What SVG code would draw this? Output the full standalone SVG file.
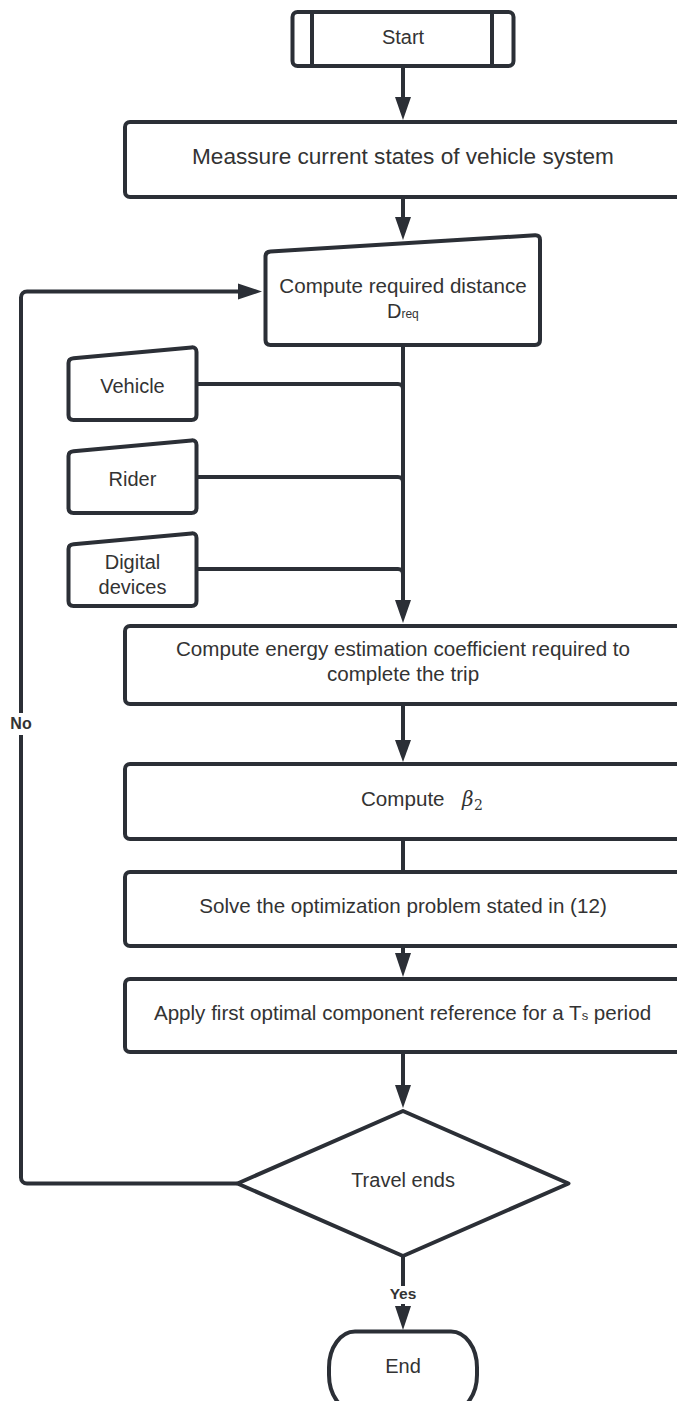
<svg xmlns="http://www.w3.org/2000/svg" width="677" height="1401" viewBox="0 0 677 1401">
<style>
.shape{fill:#ffffff;stroke:#2b2f36;stroke-width:4;stroke-linejoin:round}
.line{fill:none;stroke:#2b2f36;stroke-width:4;stroke-linejoin:round}
.head{fill:#2b2f36;stroke:none}
.t{font-family:"Liberation Sans",Arial,sans-serif;fill:#333333;font-size:20.6px;text-anchor:middle}
.s{font-size:20px}
.lbl{font-family:"Liberation Sans",Arial,sans-serif;fill:#333333;font-size:15.5px;font-weight:bold;text-anchor:middle}
.m{font-family:"DejaVu Serif","Liberation Serif",serif;fill:#333333}
</style>
<rect width="677" height="1401" fill="#ffffff"/>
<g id="connectors">
  <line class="line" x1="403" y1="66" x2="403" y2="100"/>
  <polygon class="head" points="395,97 411,97 403,120"/>
  <line class="line" x1="403" y1="197" x2="403" y2="220"/>
  <polygon class="head" points="395,217 411,217 403,240"/>
  <line class="line" x1="403" y1="345" x2="403" y2="603"/>
  <polygon class="head" points="395,600 411,600 403,623"/>
  <path class="line" d="M196.5 384 H398 A5 5 0 0 1 403 389"/>
  <path class="line" d="M196.5 477 H398 A5 5 0 0 1 403 482"/>
  <path class="line" d="M196.5 569 H398 A5 5 0 0 1 403 574"/>
  <line class="line" x1="403" y1="704" x2="403" y2="743"/>
  <polygon class="head" points="395,740 411,740 403,762"/>
  <line class="line" x1="403" y1="839" x2="403" y2="872"/>
  <line class="line" x1="403" y1="946" x2="403" y2="956"/>
  <polygon class="head" points="395,953 411,953 403,977"/>
  <line class="line" x1="403" y1="1052" x2="403" y2="1088"/>
  <polygon class="head" points="395,1085 411,1085 403,1108"/>
  <path class="line" d="M237.5 1183.5 H27 A6 6 0 0 1 21 1177.5 V297.5 A6 6 0 0 1 27 291.5 H241"/>
  <polygon class="head" points="238,283.5 238,299.5 262,291.5"/>
  <rect x="9" y="713" width="24" height="22" fill="#ffffff"/>
  <text class="lbl" x="21" y="728.5" style="font-size:16px">No</text>
  <line class="line" x1="403" y1="1256" x2="403" y2="1286"/>
  <line class="line" x1="403" y1="1304" x2="403" y2="1309"/>
  <polygon class="head" points="395,1306 411,1306 403,1330"/>
  <text class="lbl" x="403" y="1298.5">Yes</text>
</g>
<g id="start">
  <rect class="shape" x="292.5" y="12" width="221" height="54" rx="5"/>
  <line class="line" x1="312" y1="12" x2="312" y2="66"/>
  <line class="line" x1="492" y1="12" x2="492" y2="66"/>
  <text class="t s" x="403" y="43.5">Start</text>
</g>
<g id="measure">
  <rect class="shape" x="125" y="122" width="556" height="75" rx="5"/>
  <text class="t" x="403" y="164" style="font-size:22.6px">Meassure current states of vehicle system</text>
</g>
<g id="compute-distance">
  <path class="shape" d="M270.5 251.6 L535 235.3 Q540 235 540 240 V340 Q540 345 535 345 H270.5 Q265.5 345 265.5 340 V256.6 Q265.5 252 270.5 251.6 Z"/>
  <text class="t" x="403" y="293">Compute required distance</text>
  <text class="t" x="387" y="318" style="text-anchor:start;font-size:20px">D<tspan style="font-size:12px">req</tspan></text>
</g>
<g id="vehicle">
  <path class="shape" d="M73.5 358.2 L191.5 347.4 Q196.5 347 196.5 352 V415 Q196.5 420 191.5 420 H73.5 Q68.5 420 68.5 415 V363 Q68.5 358.6 73.5 358.2 Z"/>
  <text class="t s" x="132.5" y="393">Vehicle</text>
</g>
<g id="rider">
  <path class="shape" d="M73.5 451.2 L191.5 440.4 Q196.5 440 196.5 445 V508 Q196.5 513 191.5 513 H73.5 Q68.5 513 68.5 508 V456 Q68.5 451.6 73.5 451.2 Z"/>
  <text class="t s" x="132.5" y="486">Rider</text>
</g>
<g id="digital-devices">
  <path class="shape" d="M73.5 544.2 L191.5 533.4 Q196.5 533 196.5 538 V601 Q196.5 606 191.5 606 H73.5 Q68.5 606 68.5 601 V549 Q68.5 544.6 73.5 544.2 Z"/>
  <text class="t s" x="132.5" y="569">Digital</text>
  <text class="t s" x="132.5" y="594">devices</text>
</g>
<g id="energy">
  <rect class="shape" x="125" y="626" width="556" height="78" rx="5"/>
  <text class="t" x="403" y="656">Compute energy estimation coefficient required to</text>
  <text class="t" x="403" y="681">complete the trip</text>
</g>
<g id="beta">
  <rect class="shape" x="125" y="764" width="556" height="75" rx="5"/>
  <text class="t" x="361" y="806" style="text-anchor:start">Compute</text>
  <text class="m" x="462" y="806" style="font-size:20px;font-style:italic">β</text>
  <text class="m" x="474" y="810" style="font-size:14px">2</text>
</g>
<g id="solve">
  <rect class="shape" x="125" y="872" width="556" height="74" rx="5"/>
  <text class="t" x="403" y="913">Solve the optimization problem stated in (12)</text>
</g>
<g id="apply">
  <rect class="shape" x="125" y="979" width="556" height="73" rx="5"/>
  <text class="t" x="402.5" y="1020">Apply first optimal component reference for a T<tspan style="font-size:13px">s</tspan> period</text>
</g>
<g id="travel-ends">
  <polygon class="shape" points="403,1111 568.5,1183.5 403,1256 237.5,1183.5"/>
  <text class="t s" x="403" y="1187">Travel ends</text>
</g>
<g id="end">
  <path class="shape" d="M355 1331.5 H451 A26 36 0 0 1 477 1367.5 V1375 A26 36 0 0 1 451 1411 H355 A26 36 0 0 1 329 1375 V1367.5 A26 36 0 0 1 355 1331.5 Z"/>
  <text class="t s" x="403" y="1373">End</text>
</g>
</svg>
